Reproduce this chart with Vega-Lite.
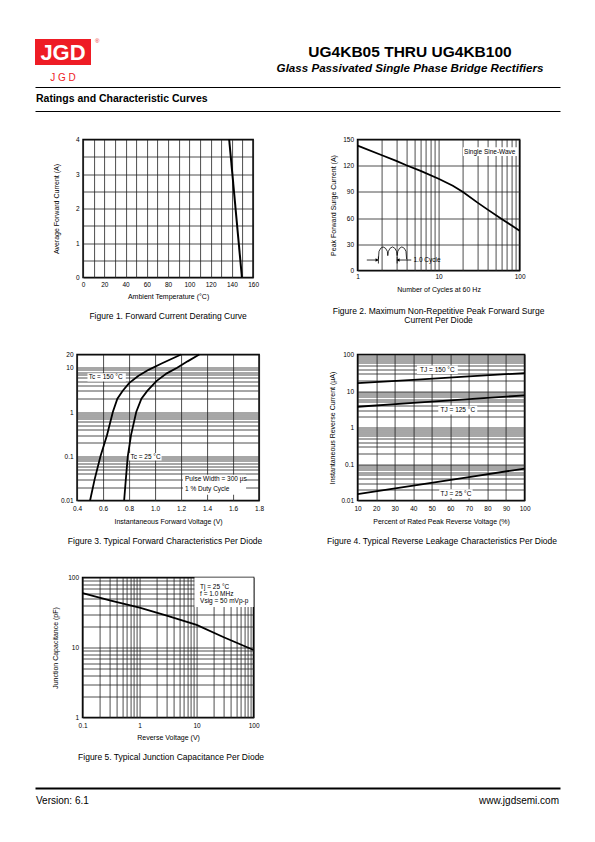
{
  "$schema": "https://vega.github.io/schema/vega-lite/v6.json",
  "background": "#ffffff",
  "padding": {"left": 35, "top": 38, "right": 35, "bottom": 20},
  "title": {
    "text": "UG4KB05 THRU UG4KB100",
    "subtitle": "Glass Passivated Single Phase Bridge Rectifiers",
    "anchor": "middle", "frame": "bounds", "orient": "top",
    "dx": 92.5, "offset": -37,
    "font": "Liberation Sans", "fontSize": 15.5, "fontWeight": "bold", "color": "#000000",
    "subtitleFont": "Liberation Sans", "subtitleFontSize": 11.6, "subtitleFontStyle": "italic", "subtitleFontWeight": "bold", "subtitleColor": "#000000", "subtitlePadding": 3
  },
  "spacing": 22.5,
  "center": true,
  "vconcat": [
    {
      "spacing": 3,
      "vconcat": [
        {
          "width": 56, "height": 26,
          "view": {"fill": "#ee1c25", "stroke": null},
          "title": {"text": "J  G  D", "orient": "bottom", "anchor": "middle", "frame": "group", "offset": 8, "color": "#ee1c25", "fontSize": 10, "fontWeight": "normal"},
          "data": {"values": [{"name": "JGD"}]},
          "layer": [
            {"mark": {"type": "text", "color": "#ffffff", "fontSize": 22, "fontWeight": "bold", "baseline": "middle", "align": "center", "dy": 1}, "encoding": {"text": {"field": "name"}}},
            {"mark": {"type": "text", "color": "#ee1c25", "fontSize": 6, "align": "left", "dx": 32, "dy": -11, "text": "®"}, "encoding": {}}
          ]
        },
        {
          "width": 525, "height": 24,
          "view": {"stroke": null},
          "data": {"values": [{"label": "Ratings and Characteristic Curves"}]},
          "mark": {"type": "text", "align": "left", "baseline": "middle", "fontWeight": "bold", "fontSize": 10.5, "dx": 1, "color": "#000000"},
          "encoding": {
            "x": {"datum": 0, "type": "quantitative", "scale": {"domain": [0, 1]}, "axis": null},
            "y": {"datum": 0.5, "type": "quantitative", "scale": {"domain": [0, 1]}, "axis": {"orient": "right", "values": [0, 1], "grid": true, "gridColor": "#000000", "gridWidth": 1, "labels": false, "ticks": true, "tickSize": 39.5, "tickColor": "transparent", "domain": false, "title": null}},
            "text": {"field": "label"}
          }
        }
      ]
    },
    {
      "columns": 2,
      "spacing": {"row": 77, "column": 98.5},
      "bounds": "flush",
      "align": "each",
      "center": {"column": true, "row": false},
      "concat": [
        {
          "width": 170, "height": 138,
          "title": {"text": "Figure 1. Forward Current Derating Curve", "orient": "bottom", "anchor": "middle", "frame": "group", "offset": 13},
          "data": {"values": [{"temperature": 137.5, "current": 4}, {"temperature": 149.5, "current": 0}]},
          "mark": {"type": "line", "color": "#000000", "strokeWidth": 2},
          "encoding": {
            "x": {"field": "temperature", "type": "quantitative", "scale": {"domain": [0, 160], "nice": false, "zero": false},
                  "axis": {"title": "Ambient Temperature (°C)", "values": [0, 10, 20, 30, 40, 50, 60, 70, 80, 90, 100, 110, 120, 130, 140, 150, 160], "labelExpr": "datum.value % 20 == 0 ? '' + datum.value : ''", "labelPadding": 4, "titlePadding": 4}},
            "y": {"field": "current", "type": "quantitative", "scale": {"domain": [0, 4], "nice": false, "zero": false},
                  "axis": {"title": "Average Forward Current (A)", "values": [0, 0.5, 1, 1.5, 2, 2.5, 3, 3.5, 4], "labelExpr": "datum.value % 1 == 0 ? '' + datum.value : ''", "labelPadding": 4, "titlePadding": 16}}
          }
        },
        {
          "width": 162, "height": 131,
          "title": {"text": ["Figure 2. Maximum Non-Repetitive Peak Forward Surge", "Current Per Diode"], "orient": "bottom", "anchor": "middle", "frame": "group", "offset": 14.7, "lineHeight": 9},
          "encoding": {
            "x": {"field": "cycles", "type": "quantitative", "scale": {"type": "log", "domain": [1, 100], "nice": false},
                  "axis": {"title": "Number of Cycles at 60 Hz", "values": [1, 2, 3, 4, 5, 6, 7, 8, 9, 10, 20, 30, 40, 50, 60, 70, 80, 90, 100], "labelExpr": "indexof([1, 10, 100], datum.value) >= 0 ? '' + datum.value : ''", "labelPadding": 3.2, "titlePadding": 4.8}},
            "y": {"field": "surge", "type": "quantitative", "scale": {"domain": [0, 150], "nice": false, "zero": false},
                  "axis": {"title": "Peak Forward Surge Current (A)", "values": [0, 30, 60, 90, 120, 150], "labelPadding": 4, "titlePadding": 6.7}}
          },
          "layer": [
            {"data": {"values": [{"cycles": 20, "cycles_end": 95, "surge": 131, "surge_end": 141}]},
             "mark": {"type": "rect", "fill": "#ffffff"},
             "encoding": {"x2": {"field": "cycles_end"}, "y2": {"field": "surge_end"}}},
            {"data": {"values": [
              {"cycles": 1, "surge": 143}, {"cycles": 2, "surge": 132}, {"cycles": 3, "surge": 125.5}, {"cycles": 4, "surge": 120.5},
              {"cycles": 6, "surge": 114}, {"cycles": 10, "surge": 105}, {"cycles": 15, "surge": 97}, {"cycles": 20, "surge": 90},
              {"cycles": 30, "surge": 78}, {"cycles": 40, "surge": 70}, {"cycles": 60, "surge": 59}, {"cycles": 80, "surge": 51.5}, {"cycles": 100, "surge": 45.5}]},
             "mark": {"type": "line", "color": "#000000", "strokeWidth": 1.8}},
            {"data": {"values": [
              {"cycles": 1.807, "surge": 13}, {"cycles": 1.84, "surge": 22}, {"cycles": 1.93, "surge": 25.5}, {"cycles": 2.065, "surge": 27},
              {"cycles": 2.21, "surge": 25.5}, {"cycles": 2.33, "surge": 22}, {"cycles": 2.36, "surge": 17}, {"cycles": 2.4, "surge": 22},
              {"cycles": 2.52, "surge": 25.5}, {"cycles": 2.7, "surge": 27}, {"cycles": 2.88, "surge": 25.5}, {"cycles": 3.03, "surge": 22},
              {"cycles": 3.08, "surge": 17}, {"cycles": 3.14, "surge": 22}, {"cycles": 3.3, "surge": 25.5}, {"cycles": 3.52, "surge": 27},
              {"cycles": 3.77, "surge": 25.5}, {"cycles": 3.96, "surge": 22}, {"cycles": 4.03, "surge": 13}]},
             "mark": {"type": "line", "color": "#000000", "strokeWidth": 0.8}},
            {"data": {"values": [
              {"cycles": 1.3, "cycles_end": 1.78, "surge": 12, "surge_end": 12},
              {"cycles": 1.807, "cycles_end": 1.807, "surge": 8, "surge_end": 16},
              {"cycles": 4.6, "cycles_end": 3.12, "surge": 12, "surge_end": 12},
              {"cycles": 3.08, "cycles_end": 3.08, "surge": 8, "surge_end": 16}]},
             "mark": {"type": "rule", "color": "#000000", "strokeWidth": 0.8},
             "encoding": {"x2": {"field": "cycles_end"}, "y2": {"field": "surge_end"}}},
            {"data": {"values": [{"cycles": 1.74, "surge": 12, "direction": "right"}, {"cycles": 3.16, "surge": 12, "direction": "left"}]},
             "mark": {"type": "point", "filled": true, "color": "#000000", "size": 12, "opacity": 1},
             "encoding": {"shape": {"field": "direction", "type": "nominal", "scale": {"domain": ["right", "left"], "range": ["triangle-right", "triangle-left"]}, "legend": null}}},
            {"data": {"values": [{"cycles": 89, "surge": 136, "label": "Single Sine-Wave"}]},
             "mark": {"type": "text", "align": "right", "fontSize": 6.5, "color": "#000000"},
             "encoding": {"text": {"field": "label"}}},
            {"data": {"values": [{"cycles": 4.9, "surge": 12, "label": "1.0 Cycle"}]},
             "mark": {"type": "text", "align": "left", "fontSize": 6.5, "color": "#000000"},
             "encoding": {"text": {"field": "label"}}}
          ]
        },
        {
          "width": 182, "height": 146,
          "title": {"text": "Figure 3. Typical Forward Characteristics Per Diode", "orient": "bottom", "anchor": "middle", "frame": "group", "offset": 13, "dx": -3},
          "encoding": {
            "x": {"field": "voltage", "type": "quantitative", "scale": {"domain": [0.4, 1.8], "nice": false, "zero": false},
                  "axis": {"title": "Instantaneous Forward Voltage (V)", "values": [0.4, 0.6, 0.8, 1.0, 1.2, 1.4, 1.6, 1.8], "labelExpr": "format(datum.value, '.1f')", "labelPadding": 4.5, "titlePadding": 5.5}},
            "y": {"field": "current", "type": "quantitative", "scale": {"type": "log", "domain": [0.01, 20], "nice": false},
                  "axis": {"title": null, "values": [0.01, 0.02, 0.03, 0.04, 0.05, 0.06, 0.07, 0.08, 0.09, 0.1, 0.2, 0.3, 0.4, 0.5, 0.6, 0.7, 0.8, 0.9, 1, 2, 3, 4, 5, 6, 7, 8, 9, 10, 20], "labelExpr": "indexof([0.01, 0.1, 1, 10, 20], datum.value) >= 0 ? '' + datum.value : ''", "ticks": true, "tickSize": 39, "tickColor": "transparent", "labelPadding": -35}}
          },
          "layer": [
            {"data": {"values": [
              {"voltage": 0.48, "voltage_end": 0.775, "current": 4.9, "current_end": 7.5},
              {"voltage": 0.8, "voltage_end": 1.05, "current": 0.08, "current_end": 0.118},
              {"voltage": 1.215, "voltage_end": 1.7, "current": 0.0135, "current_end": 0.038}]},
             "mark": {"type": "rect", "fill": "#ffffff"},
             "encoding": {"x2": {"field": "voltage_end"}, "y2": {"field": "current_end"}}},
            {"data": {"values": [
              {"series": "150", "voltage": 0.5, "current": 0.01}, {"series": "150", "voltage": 0.535, "current": 0.03}, {"series": "150", "voltage": 0.58, "current": 0.1},
              {"series": "150", "voltage": 0.63, "current": 0.3}, {"series": "150", "voltage": 0.675, "current": 1}, {"series": "150", "voltage": 0.71, "current": 2},
              {"series": "150", "voltage": 0.75, "current": 3}, {"series": "150", "voltage": 0.8, "current": 4.5}, {"series": "150", "voltage": 0.87, "current": 6.5},
              {"series": "150", "voltage": 0.95, "current": 9}, {"series": "150", "voltage": 1.05, "current": 12.5}, {"series": "150", "voltage": 1.2, "current": 20},
              {"series": "25", "voltage": 0.762, "current": 0.01}, {"series": "25", "voltage": 0.775, "current": 0.03}, {"series": "25", "voltage": 0.79, "current": 0.1},
              {"series": "25", "voltage": 0.815, "current": 0.3}, {"series": "25", "voltage": 0.855, "current": 1}, {"series": "25", "voltage": 0.895, "current": 2},
              {"series": "25", "voltage": 0.94, "current": 3}, {"series": "25", "voltage": 1.01, "current": 5}, {"series": "25", "voltage": 1.09, "current": 7.5},
              {"series": "25", "voltage": 1.17, "current": 10}, {"series": "25", "voltage": 1.25, "current": 14}, {"series": "25", "voltage": 1.34, "current": 20}]},
             "mark": {"type": "line", "color": "#000000", "strokeWidth": 1.8},
             "encoding": {"detail": {"field": "series"}}},
            {"data": {"values": [
              {"voltage": 0.49, "current": 6.1, "label": "Tc = 150 °C"},
              {"voltage": 0.81, "current": 0.097, "label": "Tc = 25 °C"},
              {"voltage": 1.23, "current": 0.03, "label": "Pulse Width = 300 µs"},
              {"voltage": 1.23, "current": 0.018, "label": "1 % Duty Cycle"}]},
             "mark": {"type": "text", "align": "left", "fontSize": 6.5, "color": "#000000"},
             "encoding": {"text": {"field": "label"}}}
          ]
        },
        {
          "width": 167, "height": 146,
          "title": {"text": "Figure 4. Typical Reverse Leakage Characteristics Per Diode", "orient": "bottom", "anchor": "middle", "frame": "group", "offset": 13, "dx": 1},
          "encoding": {
            "x": {"field": "percent", "type": "quantitative", "scale": {"domain": [10, 100], "nice": false, "zero": false},
                  "axis": {"title": "Percent of Rated Peak Reverse Voltage (%)", "values": [10, 20, 30, 40, 50, 60, 70, 80, 90, 100], "labelPadding": 4.5, "titlePadding": 5.5}},
            "y": {"field": "leakage", "type": "quantitative", "scale": {"type": "log", "domain": [0.01, 100], "nice": false},
                  "axis": {"title": "Instantaneous Reverse Current (µA)", "values": [0.01, 0.02, 0.03, 0.04, 0.05, 0.06, 0.07, 0.08, 0.09, 0.1, 0.2, 0.3, 0.4, 0.5, 0.6, 0.7, 0.8, 0.9, 1, 2, 3, 4, 5, 6, 7, 8, 9, 10, 20, 30, 40, 50, 60, 70, 80, 90, 100], "labelExpr": "indexof([0.01, 0.1, 1, 10, 100], datum.value) >= 0 ? '' + datum.value : ''", "labelPadding": 4, "titlePadding": 5.9}}
          },
          "layer": [
            {"data": {"values": [
              {"percent": 42, "percent_end": 64, "leakage": 29, "leakage_end": 50},
              {"percent": 53.5, "percent_end": 74.5, "leakage": 2.27, "leakage_end": 3.96},
              {"percent": 54, "percent_end": 72, "leakage": 0.0116, "leakage_end": 0.0202}]},
             "mark": {"type": "rect", "fill": "#ffffff"},
             "encoding": {"x2": {"field": "percent_end"}, "y2": {"field": "leakage_end"}}},
            {"data": {"values": [
              {"series": "150", "percent": 10, "leakage": 16.5}, {"series": "150", "percent": 40, "leakage": 20.3}, {"series": "150", "percent": 70, "leakage": 25.1}, {"series": "150", "percent": 100, "leakage": 31},
              {"series": "125", "percent": 10, "leakage": 3.7}, {"series": "125", "percent": 40, "leakage": 4.7}, {"series": "125", "percent": 70, "leakage": 5.97}, {"series": "125", "percent": 100, "leakage": 7.6},
              {"series": "25", "percent": 10, "leakage": 0.015}, {"series": "25", "percent": 40, "leakage": 0.0257}, {"series": "25", "percent": 70, "leakage": 0.0439}, {"series": "25", "percent": 100, "leakage": 0.075}]},
             "mark": {"type": "line", "color": "#000000", "strokeWidth": 1.8},
             "encoding": {"detail": {"field": "series"}}},
            {"data": {"values": [
              {"percent": 53, "leakage": 38, "label": "TJ = 150 °C"},
              {"percent": 64, "leakage": 3.0, "label": "TJ = 125 °C"},
              {"percent": 63, "leakage": 0.0153, "label": "TJ = 25 °C"}]},
             "mark": {"type": "text", "align": "center", "fontSize": 6.5, "color": "#000000"},
             "encoding": {"text": {"field": "label"}}}
          ]
        },
        {
          "width": 171, "height": 140,
          "title": {"text": "Figure 5. Typical Junction Capacitance Per Diode", "orient": "bottom", "anchor": "middle", "frame": "group", "offset": 12.5, "dx": 3},
          "encoding": {
            "x": {"field": "voltage", "type": "quantitative", "scale": {"type": "log", "domain": [0.1, 100], "nice": false},
                  "axis": {"title": "Reverse Voltage (V)", "values": [0.1, 0.2, 0.3, 0.4, 0.5, 0.6, 0.7, 0.8, 0.9, 1, 2, 3, 4, 5, 6, 7, 8, 9, 10, 20, 30, 40, 50, 60, 70, 80, 90, 100], "labelExpr": "indexof([0.1, 1, 10, 100], datum.value) >= 0 ? '' + datum.value : ''", "labelPadding": 4.5, "titlePadding": 5}},
            "y": {"field": "capacitance", "type": "quantitative", "scale": {"type": "log", "domain": [1, 100], "nice": false},
                  "axis": {"title": "Junction Capacitance (pF)", "values": [1, 2, 3, 4, 5, 6, 7, 8, 9, 10, 20, 30, 40, 50, 60, 70, 80, 90, 100], "labelExpr": "indexof([1, 10, 100], datum.value) >= 0 ? '' + datum.value : ''", "labelPadding": 4, "titlePadding": 9}}
          },
          "layer": [
            {"data": {"values": [{"voltage": 9.2, "voltage_end": 100, "capacitance": 38, "capacitance_end": 100}]},
             "mark": {"type": "rect", "fill": "#ffffff"},
             "encoding": {"x2": {"field": "voltage_end"}, "y2": {"field": "capacitance_end"}}},
            {"data": {"values": [
              {"voltage": 0.1, "capacitance": 60}, {"voltage": 0.3, "capacitance": 47}, {"voltage": 1, "capacitance": 37},
              {"voltage": 3, "capacitance": 28.5}, {"voltage": 10, "capacitance": 21}, {"voltage": 30, "capacitance": 14}, {"voltage": 100, "capacitance": 9.2}]},
             "mark": {"type": "line", "color": "#000000", "strokeWidth": 1.8}},
            {"data": {"values": [
              {"voltage": 11.5, "capacitance": 74, "label": "Tj = 25 °C"},
              {"voltage": 11.5, "capacitance": 59, "label": "f = 1.0 MHz"},
              {"voltage": 11.5, "capacitance": 46.5, "label": "Vsig = 50 mVp-p"}]},
             "mark": {"type": "text", "align": "left", "fontSize": 6.5, "color": "#000000"},
             "encoding": {"text": {"field": "label"}}}
          ]
        }
      ]
    },
    {
      "width": 525, "height": 23,
      "view": {"stroke": null},
      "encoding": {
        "y": {"datum": 0.326, "type": "quantitative", "scale": {"domain": [0, 1]}, "axis": {"orient": "right", "values": [0.872], "grid": true, "gridColor": "#000000", "gridWidth": 2, "labels": false, "ticks": true, "tickSize": 39.5, "tickColor": "transparent", "domain": false, "title": null}}
      },
      "layer": [
        {"data": {"values": [{"label": "Version: 6.1"}]},
         "mark": {"type": "text", "align": "left", "fontSize": 10, "dx": 1, "color": "#000000"},
         "encoding": {"x": {"datum": 0, "type": "quantitative", "scale": {"domain": [0, 1]}, "axis": null}, "text": {"field": "label"}}},
        {"data": {"values": [{"label": "www.jgdsemi.com"}]},
         "mark": {"type": "text", "align": "right", "fontSize": 10, "dx": -1, "color": "#000000"},
         "encoding": {"x": {"datum": 1, "type": "quantitative", "scale": {"domain": [0, 1]}, "axis": null}, "text": {"field": "label"}}}
      ]
    }
  ],
  "config": {
    "font": "Liberation Sans",
    "view": {"stroke": "#000000", "strokeWidth": 1.6},
    "axis": {
      "labelFont": "Liberation Sans", "labelFontSize": 6.5, "labelColor": "#000000",
      "titleFont": "Liberation Sans", "titleFontSize": 7, "titleFontWeight": "normal", "titleColor": "#000000",
      "ticks": false, "domain": false, "grid": true, "gridColor": "#222222", "gridWidth": 0.8, "gridOpacity": 1,
      "labelFlush": false, "labelOverlap": false, "labelBound": false
    },
    "title": {"font": "Liberation Sans", "fontSize": 8.5, "fontWeight": "normal", "color": "#000000"},
    "text": {"font": "Liberation Sans", "fontSize": 6, "color": "#000000"}
  }
}
